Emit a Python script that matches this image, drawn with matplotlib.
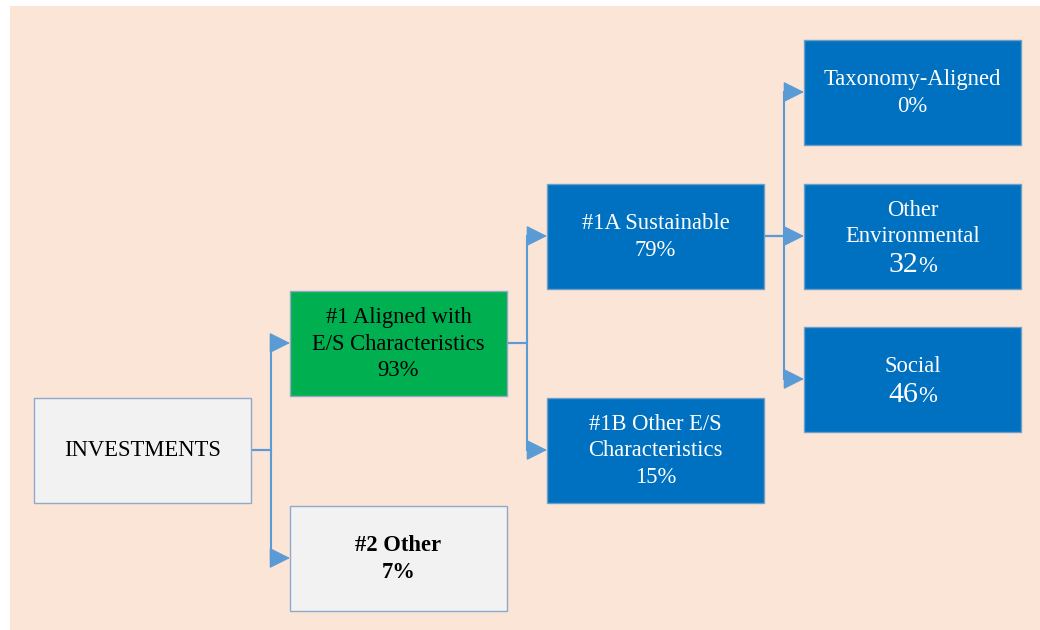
import matplotlib.pyplot as plt
from matplotlib.patches import Rectangle

# node data
names = ["INVESTMENTS", "#1 Aligned with\nE/S Characteristics", "#2 Other",
         "#1A Sustainable", "#1B Other E/S\nCharacteristics",
         "Taxonomy-Aligned", "Other\nEnvironmental", "Social"]
shares = [None, 93, 7, 79, 15, 0, 32, 46]
parents = [None, 0, 0, 1, 1, 3, 3, 3]
levels = [0, 1, 1, 2, 2, 3, 3, 3]

# layout (pixel space, y downwards)
col_x = [34, 290, 547, 804]
row_y = [450, 343, 558, 236, 450, 92, 236, 379]
box_w, box_h = 217, 105
big_number = [False, False, False, False, False, False, True, True]

BLUE = "#0070C0"
GREEN = "#00B050"
GREY = "#F2F2F2"
LINE = "#5B9BD5"
fills = [GREY, GREEN, GREY, BLUE, BLUE, BLUE, BLUE, BLUE]
text_colors = ["black", "black", "black", "white", "white", "white", "white", "white"]
weights = ["normal", "normal", "bold", "normal", "normal", "normal", "normal", "normal"]

plt.rcParams["font.family"] = ["Liberation Serif", "DejaVu Serif"]

fig = plt.figure(figsize=(10.4, 6.3), dpi=100)
ax = fig.add_axes([0, 0, 1, 1])
ax.set_xlim(0, 1040)
ax.set_ylim(630, 0)
ax.axis("off")

ax.add_patch(Rectangle((10, 6), 1030, 624, facecolor="#FBE5D6", edgecolor="none", zorder=0))

# connectors
for i, p in enumerate(parents):
    if p is None:
        continue
    px = col_x[levels[p]] + box_w
    py = row_y[p]
    bx = (px + col_x[levels[i]]) / 2
    ax.plot([px, bx, bx, col_x[levels[i]] - 12], [py, py, row_y[i], row_y[i]],
            color=LINE, lw=1.5, zorder=1, solid_joinstyle="miter")
    ax.annotate("", xy=(col_x[levels[i]], row_y[i]), xytext=(col_x[levels[i]] - 13, row_y[i]),
                arrowprops=dict(arrowstyle="-|>,head_length=1.0,head_width=0.5",
                                color=LINE, lw=1.0, shrinkA=0, shrinkB=0,
                                mutation_scale=13), zorder=2)

fig.canvas.draw()
renderer = fig.canvas.get_renderer()

FS = 16.3
for i, name in enumerate(names):
    x0 = col_x[levels[i]]
    yc = row_y[i]
    edge = "#8EA9C9" if fills[i] != BLUE else "#6E9FCB"
    ax.add_patch(Rectangle((x0, yc - box_h / 2), box_w, box_h, facecolor=fills[i],
                           edgecolor=edge, lw=1, zorder=3))
    cx = x0 + box_w / 2
    if shares[i] is None:
        ax.text(cx, yc + 1, name, ha="center", va="center", fontsize=FS,
                color=text_colors[i], zorder=4)
    elif not big_number[i]:
        ax.text(cx, yc + 1, f"{name}\n{shares[i]}%", ha="center", va="center",
                fontsize=FS, color=text_colors[i], fontweight=weights[i],
                linespacing=1.37, zorder=4)
    else:
        n_lines = name.count("\n") + 1
        step = 26
        base_last = yc + (n_lines * step) / 2 + 10
        for k, line in enumerate(name.split("\n")):
            ax.text(cx, base_last - 30 - (n_lines - 1 - k) * step, line, ha="center",
                    va="baseline", fontsize=FS, color=text_colors[i], zorder=4)
        t1 = ax.text(cx, base_last, str(shares[i]), ha="right", va="baseline",
                     fontsize=21.5, color=text_colors[i], zorder=4)
        t2 = ax.text(cx, base_last, "%", ha="left", va="baseline",
                     fontsize=FS, color=text_colors[i], zorder=4)
        w1 = t1.get_window_extent(renderer).width
        w2 = t2.get_window_extent(renderer).width
        shift = (w1 - w2) / 2
        t1.set_x(cx + shift)
        t2.set_x(cx + shift)

fig.savefig("out.png", dpi=100, facecolor="white")
